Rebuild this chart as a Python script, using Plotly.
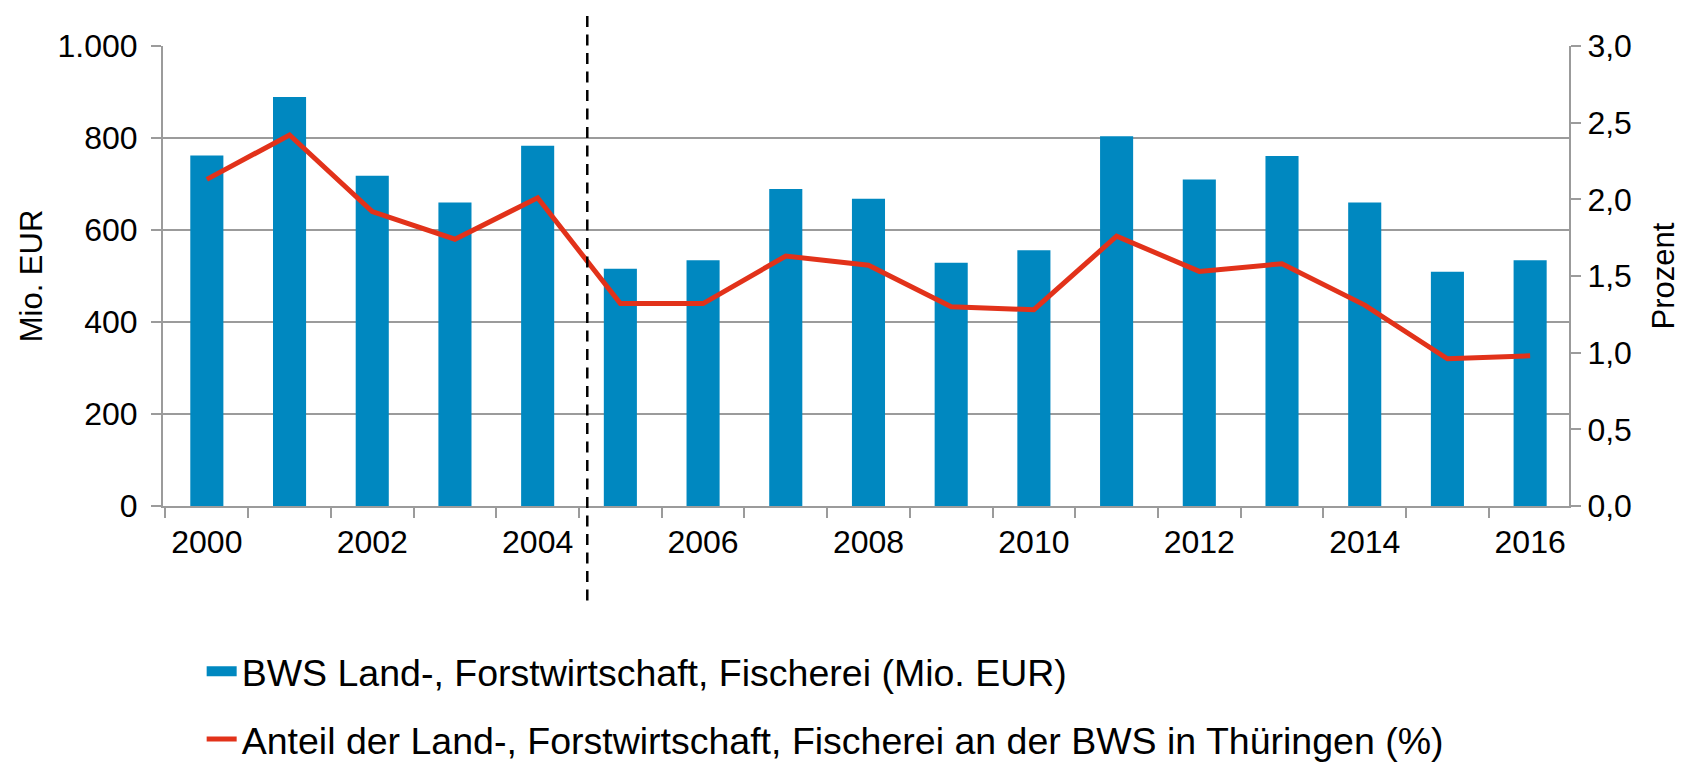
import plotly.graph_objects as go

years = list(range(2000, 2017))
bws_mio_eur = [762, 889, 718, 660, 783, 516, 534, 689, 668, 529, 556, 804, 710, 761, 660, 509, 534]
anteil_pct = [2.13, 2.42, 1.92, 1.74, 2.01, 1.32, 1.32, 1.63, 1.57, 1.30, 1.28, 1.76, 1.53, 1.58, 1.31, 0.96, 0.98]
year_labels = list(range(2000, 2017, 2))

bar_name = 'BWS Land-, Forstwirtschaft, Fischerei (Mio. EUR)'
line_name = 'Anteil der Land-, Forstwirtschaft, Fischerei an der BWS in Thüringen (%)'

FONT = 'Liberation Sans, Arial, sans-serif'
GRID = '#9b9b9b'
BLUE = '#0088c0'
RED = '#e2321a'


def ploton():
    fig = go.Figure()
    fig.add_trace(go.Bar(
        x=years, y=bws_mio_eur, name=bar_name,
        marker=dict(color=BLUE, line_width=0),
        showlegend=False, yaxis='y'
    ))
    # legend entry only: wide blue box like the original
    fig.add_trace(go.Scatter(
        x=[None], y=[None], name=bar_name, mode='lines',
        line=dict(color=BLUE, width=17), legendgroup='a'
    ))
    fig.add_trace(go.Scatter(
        x=years, y=anteil_pct, name=line_name, mode='lines',
        line=dict(color=RED, width=5),
        legendgroup='b', yaxis='y2'
    ))

    # break in the series between 2004 and 2005
    fig.add_shape(type='line', xref='x', yref='paper',
                  x0=2004.60, x1=2004.60, y0=1.065, y1=-0.213,
                  line=dict(color='black', width=2.5, dash='11px,7.5px'))

    fig.update_layout(
        width=1685, height=763,
        margin=dict(l=163, r=116, t=46, b=257, autoexpand=False),
        paper_bgcolor='white', plot_bgcolor='white',
        separators=',.',
        font=dict(family=FONT, size=32, color='black'),
        bargap=0.6,
        showlegend=True,
        legend=dict(
            orientation='v', x=0.0275, xanchor='left', y=-0.292, yanchor='top',
            font=dict(size=37.5), tracegroupgap=16, bgcolor='rgba(0,0,0,0)'
        ),
        xaxis=dict(
            range=[1999.47, 2016.47], tickvals=year_labels, ticks='',
            showgrid=False, showline=True, linecolor=GRID, linewidth=2,
            minor=dict(ticks='outside', tick0=1999.5, dtick=1, ticklen=10,
                       tickcolor=GRID, tickwidth=2, showgrid=False),
            ticklabelstandoff=7
        ),
        yaxis=dict(
            range=[0, 1000], dtick=200, tickformat=',',
            title=dict(text='Mio. EUR', font=dict(size=31), standoff=6),
            showgrid=True, gridcolor=GRID, gridwidth=2,
            showline=True, linecolor=GRID, linewidth=2,
            ticks='outside', ticklen=10, tickcolor=GRID, tickwidth=2,
            ticklabelstandoff=7, zeroline=False
        ),
        yaxis2=dict(
            range=[0, 3], dtick=0.5, tickformat='.1f', overlaying='y', side='right',
            title=dict(text='Prozent', font=dict(size=31), standoff=21),
            showgrid=False, showline=True, linecolor=GRID, linewidth=2,
            ticks='outside', ticklen=10, tickcolor=GRID, tickwidth=2,
            zeroline=False
        )
    )
    # the page is photographed at exactly the figure size, so drop the body margin
    fig.write_html('out.html', config={'displayModeBar': False},
                   post_script="document.body.style.margin = '0';")


if __name__ == '__main__':
    ploton()
